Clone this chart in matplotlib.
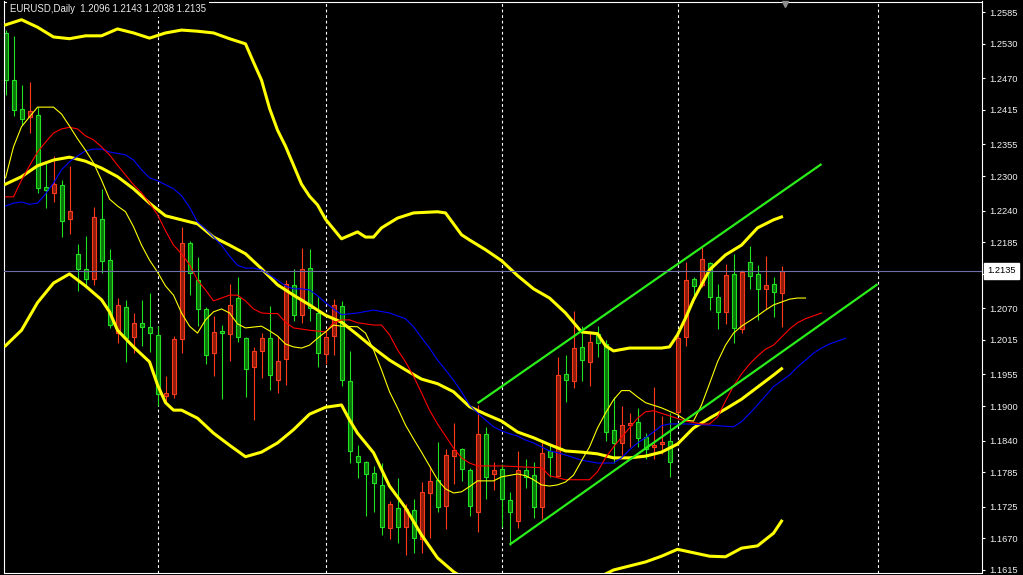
import matplotlib.pyplot as plt
import matplotlib.transforms as mtransforms
from matplotlib.patches import Rectangle

plt.rcParams['font.family'] = ['Liberation Sans', 'DejaVu Sans']

title_text = "EURUSD,Daily  1.2096 1.2143 1.2038 1.2135"
last_price = 1.2135

# daily candles (open, high, low, close)
opens = [1.2549, 1.2467, 1.2417, 1.2403, 1.2406, 1.2281, 1.2271, 1.2285, 1.2225, 1.2165,
         1.2138, 1.2121, 1.2225, 1.2154, 1.2027, 1.2072, 1.2020, 1.2045, 1.2038, 1.2024,
         1.1918, 1.1921, 1.2017, 1.2184, 1.2119, 1.2069, 1.1992, 1.2031, 1.2025, 1.2088,
         1.2019, 1.1968, 1.1996, 1.2019, 1.1945, 1.1982, 1.2111, 1.2058, 1.2140, 1.2062,
         1.1991, 1.2022, 1.2074, 1.1944, 1.1813, 1.1803, 1.1784, 1.1763, 1.1688, 1.1723,
         1.1690, 1.1719, 1.1669, 1.1749, 1.1772, 1.1727, 1.1813, 1.1826, 1.1789, 1.1716,
         1.1852, 1.1782, 1.1791, 1.1737, 1.1700, 1.1789, 1.1780, 1.1725, 1.1822, 1.1779,
         1.1956, 1.1944, 1.2003, 1.1977, 1.2025, 1.2008, 1.1859, 1.1836, 1.1867, 1.1872,
         1.1846, 1.1829, 1.1834, 1.1839, 1.1890, 1.2020, 1.2121, 1.2111, 1.2149, 1.2090,
         1.2064, 1.2130, 1.2034, 1.2151, 1.2130, 1.2104, 1.2112, 1.2096]
highs = [1.2554, 1.2544, 1.2459, 1.2464, 1.2420, 1.2323, 1.2335, 1.2293, 1.2318, 1.2182,
         1.2196, 1.2246, 1.2278, 1.2173, 1.2088, 1.2085, 1.2062, 1.2085, 1.2097, 1.2039,
         1.1952, 1.2022, 1.2212, 1.2187, 1.2159, 1.2072, 1.2057, 1.2041, 1.2112, 1.2125,
         1.2021, 1.2003, 1.2027, 1.2074, 1.2022, 1.2119, 1.2138, 1.2175, 1.2173, 1.2090,
         1.2032, 1.2086, 1.2083, 1.1996, 1.1832, 1.1805, 1.1796, 1.1801, 1.1735, 1.1775,
         1.1730, 1.1739, 1.1768, 1.1796, 1.1838, 1.1825, 1.1871, 1.1827, 1.1793, 1.1902,
         1.1864, 1.1803, 1.1800, 1.1751, 1.1822, 1.1808, 1.1803, 1.1839, 1.1834, 1.1985,
         1.1989, 1.2066, 1.2039, 1.2030, 1.2039, 1.2015, 1.1916, 1.1900, 1.1888, 1.1897,
         1.1853, 1.1933, 1.1883, 1.1888, 1.2032, 1.2151, 1.2125, 1.2177, 1.2151, 1.2112,
         1.2147, 1.2165, 1.2137, 1.2179, 1.2146, 1.2161, 1.2125, 1.2143]
lows = [1.2441, 1.2405, 1.2389, 1.2375, 1.2271, 1.2245, 1.2255, 1.2194, 1.2199, 1.2100,
        1.2111, 1.2111, 1.2131, 1.2036, 1.2010, 1.1977, 1.1992, 1.2005, 1.1994, 1.1900,
        1.1906, 1.1914, 1.1992, 1.2093, 1.2039, 1.1973, 1.1952, 1.1912, 1.1978, 1.2012,
        1.1916, 1.1876, 1.1949, 1.1928, 1.1923, 1.1937, 1.2048, 1.2045, 1.2048, 1.1968,
        1.1973, 1.1989, 1.1935, 1.1801, 1.1775, 1.1709, 1.1716, 1.1676, 1.1669, 1.1662,
        1.1641, 1.1645, 1.1645, 1.1671, 1.1716, 1.1687, 1.1765, 1.1770, 1.1709, 1.1681,
        1.1739, 1.1754, 1.1690, 1.1658, 1.1688, 1.1758, 1.1706, 1.1704, 1.1777, 1.1777,
        1.1907, 1.1932, 1.1944, 1.1935, 1.1986, 1.1839, 1.1801, 1.1815, 1.1829, 1.1829,
        1.1808, 1.1808, 1.1817, 1.1777, 1.1885, 1.2005, 1.2090, 1.2107, 1.2067, 1.2034,
        1.2043, 1.2010, 1.2027, 1.2104, 1.2050, 1.2069, 1.2055, 1.2038]
closes = [1.2467, 1.2415, 1.2399, 1.2413, 1.2279, 1.2276, 1.2286, 1.2222, 1.2239, 1.2138,
          1.2121, 1.2229, 1.2152, 1.2041, 1.2076, 1.2019, 1.2045, 1.2038, 1.2027, 1.1921,
          1.1923, 1.2017, 1.2184, 1.2132, 1.2069, 1.1989, 1.2029, 1.2027, 1.2076, 1.2020,
          1.1965, 1.1996, 1.2019, 1.1954, 1.1978, 1.2112, 1.2058, 1.2138, 1.2071, 1.1992,
          1.2020, 1.2076, 1.1945, 1.1822, 1.1803, 1.1782, 1.1766, 1.1690, 1.1730, 1.1690,
          1.1721, 1.1671, 1.1751, 1.1770, 1.1725, 1.1815, 1.1824, 1.1791, 1.1727, 1.1852,
          1.1777, 1.1789, 1.1739, 1.1716, 1.1789, 1.1777, 1.1725, 1.1819, 1.1812, 1.1954,
          1.1945, 1.2001, 1.1980, 1.2012, 1.2010, 1.1855, 1.1836, 1.1867, 1.1871, 1.1845,
          1.1825, 1.1832, 1.1837, 1.1803, 1.2019, 1.2119, 1.2109, 1.2156, 1.2090, 1.2064,
          1.2128, 1.2036, 1.2133, 1.2126, 1.2104, 1.2111, 1.2098, 1.2135]

# Bollinger bands, read at bar indices
bb_up_idx = [0, 2, 4, 6, 8, 10, 12, 14, 16, 18, 20, 22, 24, 26, 28, 30, 31, 32, 33, 34, 35,
             36, 37, 38, 39, 40, 41, 42, 44, 45, 46, 47, 49, 51, 54, 55, 57, 58, 60, 62, 64,
             66, 68, 70, 72, 74, 75, 76, 78, 82, 83, 84, 85, 86, 88, 90, 92, 94, 96, 97]
bb_up = [1.2563, 1.2572, 1.2559, 1.2542, 1.2539, 1.2544, 1.2544, 1.2556, 1.2549, 1.2540,
         1.2549, 1.2554, 1.2552, 1.2549, 1.2539, 1.2530, 1.2498, 1.2467, 1.2418, 1.2380,
         1.2352, 1.2319, 1.2286, 1.2265, 1.2250, 1.2225, 1.2208, 1.2191, 1.2203, 1.2194,
         1.2194, 1.2210, 1.2227, 1.2236, 1.2238, 1.2236, 1.2198, 1.2189, 1.2172, 1.2153,
         1.2127, 1.2104, 1.2088, 1.2062, 1.2029, 1.2026, 1.2005, 1.1996, 1.2001, 1.2001,
         1.2003, 1.2024, 1.2053, 1.2085, 1.2137, 1.2163, 1.2180, 1.2210, 1.2224, 1.2229]
bb_mid_idx = [0, 2, 4, 6, 8, 10, 12, 14, 16, 18, 20, 22, 24, 26, 28, 30, 32, 34, 36, 38, 40,
              42, 44, 46, 48, 50, 52, 54, 56, 58, 60, 62, 64, 66, 68, 70, 72, 74, 76, 78, 80,
              82, 84, 86, 88, 90, 92, 94, 96, 97]
bb_mid = [1.2286, 1.2299, 1.2318, 1.2328, 1.2333, 1.2326, 1.2314, 1.2299, 1.2278, 1.2253,
          1.2231, 1.2224, 1.2217, 1.2194, 1.2180, 1.2165, 1.2139, 1.2111, 1.2093, 1.2076,
          1.2058, 1.2046, 1.2024, 1.2001, 1.1980, 1.1963, 1.1947, 1.1939, 1.1925, 1.1899,
          1.1886, 1.1874, 1.1855, 1.1845, 1.1833, 1.1822, 1.1820, 1.1817, 1.1810, 1.1810,
          1.1813, 1.1820, 1.1834, 1.1862, 1.1879, 1.1895, 1.1912, 1.1933, 1.1954, 1.1965]
bb_low_idx = [0, 2, 4, 6, 8, 10, 12, 13, 14, 16, 18, 19, 20, 21, 22, 24, 26, 28, 30, 32, 34,
              36, 38, 40, 42, 43, 44, 46, 48, 50, 52, 54, 56, 58, 62, 66, 70, 74, 76, 80, 82,
              84, 86, 88, 90, 92, 94, 96, 97]
bb_low = [1.2005, 1.2032, 1.2080, 1.2114, 1.2130, 1.2109, 1.2085, 1.2064, 1.2032, 1.2003,
          1.1977, 1.1937, 1.1906, 1.1893, 1.1893, 1.1879, 1.1853, 1.1832, 1.1812, 1.1820,
          1.1836, 1.1859, 1.1886, 1.1898, 1.1902, 1.1876, 1.1853, 1.1819, 1.1761, 1.1723,
          1.1676, 1.1636, 1.1612, 1.1594, 1.1577, 1.1572, 1.1580, 1.1601, 1.1615, 1.1629,
          1.1639, 1.1651, 1.1645, 1.1639, 1.1638, 1.1653, 1.1657, 1.1679, 1.1700]

# alligator-style shifted averages (yellow lips, red teeth, blue jaw)
lips_idx = [0, 1, 2, 3, 4, 6, 7, 8, 9, 10, 11, 12, 13, 14, 15, 16, 17, 18, 19, 20, 21, 22,
            23, 24, 25, 26, 27, 28, 29, 30, 32, 33, 34, 35, 36, 37, 38, 39, 40, 41, 42, 44,
            45, 46, 47, 48, 49, 50, 51, 52, 53, 54, 55, 56, 57, 58, 59, 61, 62, 64, 65, 66,
            67, 68, 69, 70, 71, 72, 73, 74, 75, 76, 77, 78, 79, 80, 82, 84, 85, 86, 87, 88,
            89, 90, 91, 92, 93, 94, 95, 96, 97, 98, 99, 100]
lips = [1.2297, 1.2351, 1.2386, 1.2403, 1.2420, 1.2420, 1.2408, 1.2387, 1.2365, 1.2345,
        1.2323, 1.2293, 1.2260, 1.2248, 1.2238, 1.2212, 1.2180, 1.2154, 1.2133, 1.2109,
        1.2093, 1.2062, 1.2039, 1.2027, 1.2050, 1.2064, 1.2069, 1.2062, 1.2043, 1.2036,
        1.2039, 1.2031, 1.2022, 1.2008, 1.2003, 1.2001, 1.2006, 1.2018, 1.2029, 1.2041,
        1.2039, 1.2038, 1.2027, 1.1998, 1.1963, 1.1925, 1.1897, 1.1867, 1.1843, 1.1820,
        1.1796, 1.1772, 1.1756, 1.1749, 1.1751, 1.1760, 1.1770, 1.1770, 1.1777, 1.1782,
        1.1779, 1.1772, 1.1763, 1.1761, 1.1763, 1.1768, 1.1780, 1.1805, 1.1829, 1.1862,
        1.1888, 1.1911, 1.1927, 1.1927, 1.1916, 1.1906, 1.1897, 1.1885, 1.1876, 1.1874,
        1.1902, 1.1939, 1.1977, 1.2006, 1.2027, 1.2039, 1.2048, 1.2057, 1.2067, 1.2076,
        1.2081, 1.2086, 1.2088, 1.2088]
teeth_idx = [0, 1, 2, 3, 4, 5, 6, 7, 8, 9, 10, 11, 12, 13, 14, 15, 16, 17, 18, 19, 20, 21,
             22, 23, 24, 25, 26, 27, 28, 29, 30, 31, 32, 33, 34, 35, 36, 38, 40, 41, 42, 43,
             44, 46, 47, 48, 49, 50, 51, 52, 53, 54, 55, 56, 57, 58, 59, 62, 65, 67, 68, 70,
             73, 74, 75, 76, 77, 78, 79, 80, 81, 83, 85, 87, 88, 89, 90, 91, 92, 93, 94, 95,
             96, 97, 98, 99, 100, 101, 102]
teeth = [1.2264, 1.2264, 1.2293, 1.2318, 1.2342, 1.2359, 1.2375, 1.2382, 1.2385, 1.2382,
         1.2370, 1.2363, 1.2351, 1.2337, 1.2319, 1.2302, 1.2285, 1.2271, 1.2253, 1.2233,
         1.2205, 1.2180, 1.2165, 1.2146, 1.2119, 1.2102, 1.2083, 1.2088, 1.2093, 1.2093,
         1.2083, 1.2069, 1.2062, 1.2061, 1.2061, 1.2046, 1.2036, 1.2032, 1.2029, 1.2045,
         1.2050, 1.2050, 1.2045, 1.2041, 1.2041, 1.2024, 1.1998, 1.1977, 1.1952, 1.1923,
         1.1893, 1.1869, 1.1848, 1.1827, 1.1810, 1.1801, 1.1796, 1.1796, 1.1794, 1.1793,
         1.1779, 1.1772, 1.1772, 1.1786, 1.1810, 1.1829, 1.1846, 1.1862, 1.1879, 1.1890,
         1.1892, 1.1883, 1.1874, 1.1869, 1.1869, 1.1881, 1.1909, 1.1935, 1.1956, 1.1973,
         1.1987, 1.1999, 1.2006, 1.2020, 1.2034, 1.2045, 1.2052, 1.2057, 1.2062]
jaw_idx = [0, 1, 2, 3, 4, 5, 6, 7, 8, 9, 10, 11, 12, 13, 15, 16, 17, 18, 19, 20, 21, 22, 23,
           24, 25, 26, 27, 28, 29, 30, 31, 32, 33, 34, 35, 36, 37, 38, 39, 40, 41, 42, 44,
           46, 48, 50, 51, 52, 53, 54, 55, 56, 57, 58, 59, 60, 61, 62, 63, 64, 65, 66, 67,
           68, 69, 70, 72, 74, 76, 77, 78, 79, 80, 81, 82, 83, 85, 88, 91, 92, 93, 94, 95,
           96, 97, 98, 99, 100, 101, 102, 103, 104, 105]
jaw = [1.2248, 1.2253, 1.2255, 1.2251, 1.2253, 1.2269, 1.2288, 1.2311, 1.2325, 1.2335,
       1.2344, 1.2347, 1.2347, 1.2342, 1.2337, 1.2328, 1.2311, 1.2297, 1.2292, 1.2285,
       1.2278, 1.2266, 1.2246, 1.2220, 1.2208, 1.2194, 1.2180, 1.2161, 1.2145, 1.2140,
       1.2140, 1.2137, 1.2128, 1.2119, 1.2109, 1.2104, 1.2104, 1.2102, 1.2092, 1.2080,
       1.2069, 1.2059, 1.2062, 1.2067, 1.2062, 1.2052, 1.2038, 1.2019, 1.2001, 1.1980,
       1.1963, 1.1945, 1.1925, 1.1902, 1.1888, 1.1876, 1.1864, 1.1857, 1.1852, 1.1848,
       1.1841, 1.1836, 1.1829, 1.1822, 1.1819, 1.1815, 1.1806, 1.1801, 1.1801, 1.1810,
       1.1824, 1.1836, 1.1845, 1.1855, 1.1866, 1.1869, 1.1869, 1.1867, 1.1864, 1.1873,
       1.1887, 1.1902, 1.1918, 1.1934, 1.1944, 1.1954, 1.1968, 1.1980, 1.1992, 1.2001,
       1.2008, 1.2013, 1.2018]

# trend channel (bar index, price) end points
channel_top = [(59, 1.1905), (102, 1.2321)]
channel_bottom = [(63, 1.1659), (109, 1.2112)]

separators = [19, 40, 62, 84, 109]
price_ticks = [1.2585, 1.2530, 1.2470, 1.2415, 1.2355, 1.2300, 1.2240, 1.2185, 1.2130,
               1.2070, 1.2015, 1.1955, 1.1900, 1.1840, 1.1785, 1.1725, 1.1670, 1.1615]

up_edge, up_fill = '#ff3a1a', '#8c1c0c'
dn_edge, dn_fill = '#22e022', '#0a760a'

fig = plt.figure(figsize=(10.23, 5.75), dpi=100, facecolor='black')
ax = fig.add_axes([4 / 1023, 2.5 / 575, 978 / 1023, 571 / 575])
ax.set_facecolor('black')
ax.set_xlim(-0.19, 122.06)
ax.set_ylim(1.161065, 1.260369)

for s in separators:
    ax.axvline(s, color='white', lw=0.8, ls=(0, (2.5, 2.5)), zorder=1)

# candles
for i in range(len(opens)):
    o, h, l, c = opens[i], highs[i], lows[i], closes[i]
    if c > o:
        ec, fc = up_edge, up_fill
    else:
        ec, fc = dn_edge, dn_fill
    ax.vlines(i, l, h, color=ec, lw=0.8, zorder=2)
    bottom = min(o, c)
    height = max(abs(c - o), 0.00005)
    ax.add_patch(Rectangle((i - 0.25, bottom), 0.5, height, facecolor=fc,
                           edgecolor=ec, lw=0.8, zorder=2.5))

# indicators
ax.plot(bb_up_idx, bb_up, color='#ffff00', lw=2.2, zorder=3)
ax.plot(bb_mid_idx, bb_mid, color='#ffff00', lw=2.2, zorder=3)
ax.plot(bb_low_idx, bb_low, color='#ffff00', lw=2.2, zorder=3)
ax.plot(jaw_idx, jaw, color='#0000ff', lw=0.8, zorder=3)
ax.plot(teeth_idx, teeth, color='#ff0000', lw=0.8, zorder=3)
ax.plot(lips_idx, lips, color='#ffff00', lw=0.8, zorder=3)

for line in (channel_top, channel_bottom):
    xs = [p[0] for p in line]
    ys = [p[1] for p in line]
    ax.plot(xs, ys, color='#2aee1a', lw=1.6, zorder=4, solid_capstyle='butt')

ax.axhline(last_price, color='#6e6eaa', lw=0.8, zorder=4.5)

# axis styling
for sp in ax.spines.values():
    sp.set_color('white')
    sp.set_linewidth(0.8)
ax.set_xticks([])
ax.yaxis.tick_right()
ax.set_yticks(price_ticks)
# the 1.2130 label sits under the current-price box, so only its tick is shown
ax.set_yticklabels(['' if abs(v - 1.2130) < 1e-6 else '%.4f' % v for v in price_ticks])
ax.tick_params(axis='y', colors='white', labelcolor='#f0f0f0', labelsize=6.7,
               length=2, width=0.8, pad=3.5, direction='out')

trans = mtransforms.blended_transform_factory(ax.transAxes, ax.transData)
ax.text(1.0054, last_price, '%.4f' % last_price, transform=trans, ha='left', va='center',
        fontsize=6.7, color='black', zorder=10, clip_on=False,
        bbox=dict(boxstyle='square,pad=0.35', facecolor='white', edgecolor='white'))

# title sits on a black patch so the separator line does not run through it
ax.text(0.0061, 0.987, title_text, transform=ax.transAxes, ha='left', va='center',
        fontsize=6.9, color='#ececec', zorder=10,
        bbox=dict(boxstyle='square,pad=0.3', facecolor='black', edgecolor='none'))

ax.plot([97.4], [0.996], transform=mtransforms.blended_transform_factory(ax.transData, ax.transAxes),
        marker='v', color='#8c8c8c', ms=5, clip_on=False, zorder=10)

fig.savefig('out.png', dpi=100, facecolor='black')
